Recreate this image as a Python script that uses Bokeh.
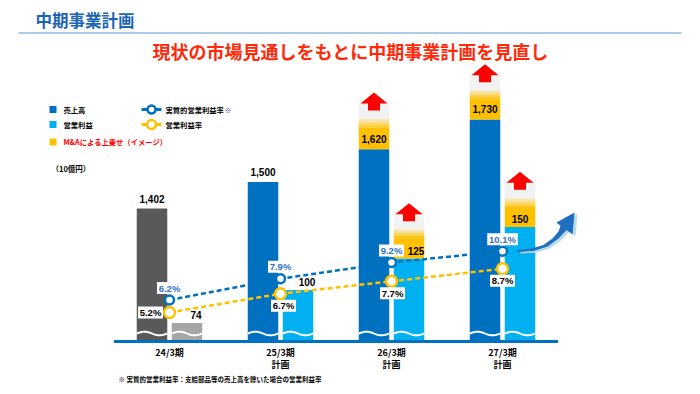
import numpy as np
from bokeh.plotting import figure
from bokeh.models import Range1d
from bokeh.core.properties import value
from bokeh.embed import file_html
from bokeh.resources import INLINE

# ---------------- data ----------------
periods = ["24/3期", "25/3期", "26/3期", "27/3期"]
period_notes = ["", "計画", "計画", "計画"]
sales = [1402, 1500, 1620, 1730]                 # 売上高 (10億円)
sales_text = ["1,402", "1,500", "1,620", "1,730"]
op_profit = [74, 100, 125, 150]                  # 営業利益 (10億円)
op_text = ["74", "100", "125", "150"]
op_margin = [5.2, 6.7, 7.7, 8.7]                 # 営業利益率 (%)
real_op_margin = [6.2, 7.9, 9.2, 10.1]           # 実質的営業利益率 (%)
ma_sales_image = [0, 0, 80, 74]                  # M&Aによる上乗せ（イメージ）
ma_op_image = [0, 0, 16, 16]

# ---------------- styles ----------------
SALES_COLORS = ["#595959", "#0070c0", "#0070c0", "#0070c0"]
OP_COLORS = ["#a6a6a6", "#00b0f0", "#00b0f0", "#00b0f0"]
BLUE = "#0070c0"
LBLUE = "#00b0f0"
YEL = "#ffc000"
PCT_BLUE_TXT = "#2f74c4"
OP_LABEL_DX = [9, 9, 7, 0]
OM_LABEL_D = [(-19, 0), (3, 12), (1, 12), (0, 12)]
JP = value("Noto Sans CJK JP")
LAT = value("Liberation Sans")

# ---------------- broken-axis scales ----------------
W, H = 692, 386
PAGE_LEFT, PAGE_TOP = 0, 0
CAT_PX = 111.0
CAT0_PAGE_X = 169.0
BASE_PAGE_Y = 339.5
SALES_BASE, SALES_K = 918.0, 0.2716
OP_BASE, OP_K = 60.5, 1.263
PCT_BASE, PCT_K = 3.0, 12.5


def yrange(base, k):
    start = base - (PAGE_TOP + H - BASE_PAGE_Y) / k
    return Range1d(start, start + H / k)


xstart = (PAGE_LEFT - CAT0_PAGE_X) / CAT_PX
p = figure(width=W, height=H, output_backend="svg", toolbar_location=None,
           x_range=Range1d(xstart, xstart + W / CAT_PX),
           y_range=yrange(SALES_BASE, SALES_K),
           x_axis_type=None, y_axis_type=None,
           min_border=0, min_border_left=0, min_border_right=0,
           min_border_top=0, min_border_bottom=0)
p.grid.visible = False
p.outline_line_color = None
p.background_fill_color = "white"
p.border_fill_color = "white"
p.extra_y_ranges = {"op": yrange(OP_BASE, OP_K),
                    "pct": yrange(PCT_BASE, PCT_K),
                    "py": Range1d(PAGE_TOP + H, PAGE_TOP)}
p.extra_x_ranges = {"px": Range1d(PAGE_LEFT, PAGE_LEFT + W)}

n = len(periods)
xs = np.arange(n, dtype=float)
OFF = 17.5 / CAT_PX
BW = 30.5 / CAT_PX

# ---------------- header ----------------
p.text(x=[35], y=[19], text=["中期事業計画"], text_font=JP, text_font_style="bold",
       text_font_size="16.5px", text_color="#1a64b4", text_baseline="middle",
       x_range_name="px", y_range_name="py")
p.segment(x0=[18], y0=[32.5], x1=[681], y1=[32.5], line_color="#5b9bd5", line_width=1.2,
          x_range_name="px", y_range_name="py")
p.text(x=[350], y=[50], text=["現状の市場見通しをもとに中期事業計画を見直し"], text_font=JP,
       text_font_style="bold", text_font_size="18px", text_color="#ff2a0a",
       text_align="center", text_baseline="middle", x_range_name="px", y_range_name="py")

# ---------------- legend ----------------
p.rect(x=[52.5, 52.5, 52.5], y=[109, 124, 141.5], width=7, height=7,
       fill_color=[BLUE, LBLUE, YEL], line_color=None, x_range_name="px", y_range_name="py")
p.text(x=[63, 63, 63], y=[109, 124, 141.5],
       text=["売上高", "営業利益", "M&Aによる上乗せ（イメージ）"], text_font=JP,
       text_font_style="bold", text_font_size="7.3px", text_color=["#000000", "#000000", "#ff0000"],
       text_baseline="middle", x_range_name="px", y_range_name="py")
p.segment(x0=[141, 141], y0=[109, 124], x1=[161, 161], y1=[109, 124],
          line_color=[BLUE, YEL], line_width=3, x_range_name="px", y_range_name="py")
p.scatter(x=[151, 151], y=[109, 124], marker="circle", size=[8, 9], fill_color="white",
          line_color=[BLUE, YEL], line_width=2.5, x_range_name="px", y_range_name="py")
p.text(x=[165, 165], y=[109, 124], text=["実質的営業利益率", "営業利益率"], text_font=JP,
       text_font_style="bold", text_font_size="7.3px", text_color="#000000",
       text_baseline="middle", x_range_name="px", y_range_name="py")
p.text(x=[224], y=[109], text=["※"], text_font=JP, text_font_size="7.3px",
       text_color="#3b3b8f", text_baseline="middle", x_range_name="px", y_range_name="py")
p.text(x=[51], y=[168], text=["（10億円）"], text_font=JP, text_font_style="bold",
       text_font_size="7.5px", text_color="#000000", text_baseline="middle",
       x_range_name="px", y_range_name="py")

# ---------------- bars ----------------
p.vbar(x=xs - OFF, width=BW, bottom=SALES_BASE, top=sales, fill_color=SALES_COLORS,
       line_color=None)
p.vbar(x=xs + OFF, width=BW, bottom=OP_BASE, top=op_profit, fill_color=OP_COLORS,
       line_color=None, y_range_name="op")


def mix(c1, c2, t):
    a = [int(c1[i:i + 2], 16) for i in (1, 3, 5)]
    b = [int(c2[i:i + 2], 16) for i in (1, 3, 5)]
    return "#%02x%02x%02x" % tuple(int(round(a[j] + (b[j] - a[j]) * t)) for j in range(3))


def ma_block(xc, top, ma, k, rng):
    if ma <= 0:
        return
    u = 1.0 / k
    yy = top + ma
    p.vbar(x=[xc], width=BW, bottom=[top], top=[yy], fill_color=YEL, line_color=None,
           y_range_name=rng)
    nsl = 10
    bots = [yy + j * u for j in range(nsl)]
    tops = [yy + (j + 1.3) * u for j in range(nsl)]
    cols = [mix(YEL, "#f2f2f2", (j + 0.5) / nsl) for j in range(nsl)]
    p.vbar(x=[xc] * nsl, width=BW, bottom=bots, top=tops, fill_color=cols, line_color=None,
           y_range_name=rng)
    p.vbar(x=[xc], width=BW, bottom=[yy + 10 * u], top=[yy + 27 * u], fill_color="#f2f2f2",
           line_color=None, y_range_name=rng)
    hw, sw = 13.5 / CAT_PX, 6 / CAT_PX
    ax = [xc - hw, xc, xc + hw, xc + sw, xc + sw, xc - sw, xc - sw]
    ay = [yy + 24 * u, yy + 35 * u, yy + 24 * u, yy + 24 * u, yy + 17 * u, yy + 17 * u, yy + 24 * u]
    p.patch(ax, ay, fill_color="#ff0000", line_color=None, y_range_name=rng)


for i in range(n):
    ma_block(xs[i] - OFF, sales[i], ma_sales_image[i], SALES_K, "default")
    ma_block(xs[i] + OFF, op_profit[i], ma_op_image[i], OP_K, "op")

# wave "break" marks near the bottom of each bar
wx, wy = [], []
for i in range(n):
    for c in (xs[i] - OFF, xs[i] + OFF):
        t = np.linspace(0, 1, 40)
        wx.append(list(c - BW / 2 + BW * t))
        wy.append(list(333.0 - 1.8 * np.sin(2 * np.pi * t)))
p.multi_line(xs=wx, ys=wy, line_color="white", line_width=2, y_range_name="py")

# baseline
p.segment(x0=[-0.5], y0=[341], x1=[n - 0.5], y1=[341], line_color=BLUE, line_width=3,
          y_range_name="py")

# ---------------- bar labels ----------------
p.text(x=xs - OFF, y=sales, text=sales_text, text_font=LAT, text_font_style="bold",
       text_font_size="10px", text_color="#000000", text_align="center",
       text_baseline="middle", y_offset=-10)
p.text(x=xs + OFF + np.array(OP_LABEL_DX) / CAT_PX, y=op_profit, text=op_text, text_font=LAT,
       text_font_style="bold", text_font_size="10px", text_color="#000000",
       text_align="center", text_baseline="middle", y_offset=-8, y_range_name="op")

# ---------------- margin lines ----------------
p.line(xs, real_op_margin, line_color=BLUE, line_width=2.5, line_dash="5 3",
       y_range_name="pct")
p.line(xs, op_margin, line_color=YEL, line_width=2.5, line_dash="5 3", y_range_name="pct")
p.scatter(xs, real_op_margin, marker="circle", size=9, fill_color="white", line_color=BLUE,
          line_width=2.5, y_range_name="pct")
p.scatter(xs, op_margin, marker="circle", size=11, fill_color="white", line_color=YEL,
          line_width=2.5, y_range_name="pct")

rm_text = ["%.1f%%" % v for v in real_op_margin]
om_text = ["%.1f%%" % v for v in op_margin]
rm_x = xs
rm_y = [v + 12 / PCT_K for v in real_op_margin]
om_x = [xs[i] + OM_LABEL_D[i][0] / CAT_PX for i in range(n)]
om_y = [op_margin[i] - OM_LABEL_D[i][1] / PCT_K for i in range(n)]
p.rect(x=list(rm_x) + om_x, y=rm_y + om_y,
       width=[5.5 * len(s) + 3 for s in rm_text + om_text], height=12,
       width_units="screen", height_units="screen", fill_color="white", line_color=None,
       y_range_name="pct")
p.text(x=rm_x, y=rm_y, text=rm_text, text_font=LAT, text_font_style="bold",
       text_font_size="9.5px", text_color=PCT_BLUE_TXT, text_align="center",
       text_baseline="middle", y_range_name="pct")
p.text(x=om_x, y=om_y, text=om_text, text_font=LAT, text_font_style="bold",
       text_font_size="9.5px", text_color="#000000", text_align="center",
       text_baseline="middle", y_range_name="pct")

# ---------------- growth swoosh arrow ----------------
sw_x = [517, 531, 543, 552, 558, 560, 556, 574, 572, 566, 558, 547, 533, 517]
sw_y = [249.5, 248, 244.5, 238, 231, 225.5, 222, 212, 234, 229.5, 238, 246, 250.5, 251.5]
p.patch([v + 3 for v in sw_x], [v + 1.5 for v in sw_y], fill_color="#b9d9ec",
        line_color=None, x_range_name="px", y_range_name="py")
p.patch(sw_x, sw_y, fill_color="#1f6fc0", line_color=None, x_range_name="px",
        y_range_name="py")

# ---------------- category labels ----------------
p.text(x=xs, y=[352] * n, text=periods, text_font=JP, text_font_style="bold",
       text_font_size="9px", text_color="#000000", text_align="center",
       text_baseline="middle", y_range_name="py")
p.text(x=xs, y=[364] * n, text=period_notes, text_font=JP, text_font_style="bold",
       text_font_size="9px", text_color="#000000", text_align="center",
       text_baseline="middle", y_range_name="py")

# footnote
p.text(x=[118], y=[378], text=["※ 実質的営業利益率：支給部品等の売上高を除いた場合の営業利益率"],
       text_font=JP, text_font_style="bold", text_font_size="6.5px", text_color="#000000",
       text_baseline="middle", x_range_name="px", y_range_name="py")

open("out.html", "w").write(file_html(p, INLINE))
